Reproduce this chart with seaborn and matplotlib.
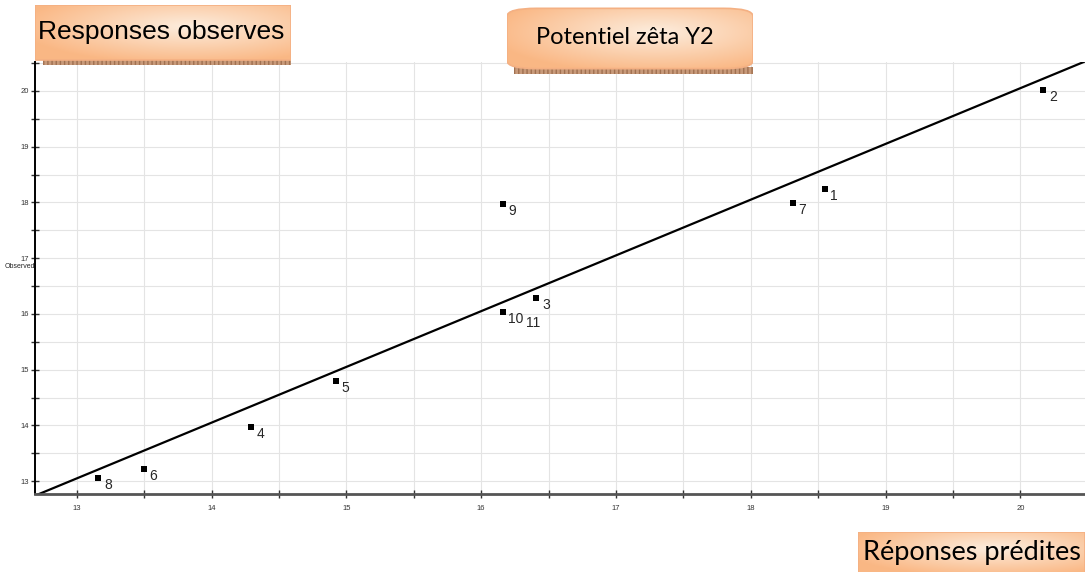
import numpy as np
import matplotlib
matplotlib.use("Agg")
import matplotlib.pyplot as plt
import seaborn as sns
from matplotlib.patches import FancyBboxPatch, Rectangle
from matplotlib.ticker import MultipleLocator

# Données : réponses prédites / observées (Potentiel zêta Y2)
essais = ["1", "2", "3", "4", "5", "6", "7", "8", "9", "10", "11"]
predites = [18.55, 20.17, 16.41, 14.29, 14.92, 13.50, 18.31, 13.16, 16.16, 16.16, 16.16]
observees = [18.24, 20.02, 16.28, 13.97, 14.79, 13.21, 17.99, 13.05, 17.97, 16.03, 16.03]
droite_x = [12.5, 21.0]
droite_y = [12.55, 21.05]
xlim = (12.69, 20.48)
ylim = (12.77, 20.52)

sns.set_theme(style="whitegrid")
plt.rcParams['font.family'] = ['Liberation Sans', 'DejaVu Sans']

fig = plt.figure(figsize=(10.85, 5.72), dpi=100)
ax = fig.add_axes([35 / 1085, 78 / 572, 1050 / 1085, 432 / 572])
ax.set_facecolor("white")

sns.lineplot(x=droite_x, y=droite_y, color="black", linewidth=1.6, ax=ax)
sns.scatterplot(x=predites, y=observees, marker="s", s=22, color="black",
                edgecolor="black", linewidth=0, ax=ax, zorder=5)

for i, lab in enumerate(essais):
    dx, dy = (4, -5) if lab != "11" else (17, -8)
    ax.annotate(lab, (predites[i], observees[i]), xytext=(dx, dy),
                textcoords="offset points", fontsize=10, va="center", ha="left")

ax.set_xlim(*xlim)
ax.set_ylim(*ylim)
ax.xaxis.set_major_locator(MultipleLocator(1))
ax.xaxis.set_minor_locator(MultipleLocator(0.5))
ax.yaxis.set_major_locator(MultipleLocator(1))
ax.yaxis.set_minor_locator(MultipleLocator(0.5))
ax.grid(True, which="both", color="#e4e4e4", linewidth=0.8)
ax.tick_params(which="both", direction="inout", length=6, width=1,
               labelsize=5.5, colors="#333333", bottom=True, left=True)
ax.tick_params(axis="x", pad=5)
ax.tick_params(axis="y", pad=1)
for s in ["top", "right"]:
    ax.spines[s].set_visible(False)
ax.spines["left"].set_color("black")
ax.spines["left"].set_linewidth(1.4)
ax.spines["bottom"].set_color("#555555")
ax.spines["bottom"].set_linewidth(2)
ax.set_xlabel("")
ax.set_ylabel("")
fig.text(5 / 1085, 1 - 266 / 572, "Observed", fontsize=5, va="center", ha="left")

# dégradé orange des cartouches
grad = np.linspace(0, 1, 200)
gx, gy = np.meshgrid(grad, grad)
dist = np.clip(np.sqrt((gx - 0.6) ** 2 + (gy - 0.6) ** 2) * 1.5, 0, 1)
c_in = np.array([0.99, 0.93, 0.87])
c_out = np.array([0.98, 0.72, 0.52])
img = c_in + (c_out - c_in) * dist[..., None]


def cartouche(x0, y0, w, h, texte, size, family, rond=False, ha="left", tx=0.02):
    bx = fig.add_axes([x0 / 1085, 1 - (y0 + h) / 572, w / 1085, h / 572])
    bx.set_xlim(0, 1)
    bx.set_ylim(0, 1)
    bx.axis("off")
    # bande hachurée en bas
    bx.add_patch(Rectangle((0.03, 0.0), 0.97, 0.1, facecolor="#c89a7a",
                           edgecolor="#a07050", hatch="||||", linewidth=0,
                           transform=bx.transAxes, zorder=0, clip_on=False))
    if rond:
        patch = FancyBboxPatch((0.0, 0.08), 1.0, 0.9,
                               boxstyle="round,pad=0,rounding_size=0.12",
                               mutation_aspect=1,
                               facecolor="none", edgecolor="#f4b083",
                               linewidth=1.2, transform=bx.transAxes, zorder=3)
    else:
        patch = Rectangle((0.0, 0.08), 1.0, 0.92, facecolor="none",
                          edgecolor="#f4b083", linewidth=1.2,
                          transform=bx.transAxes, zorder=3)
    bx.add_patch(patch)
    im = bx.imshow(img, extent=(0, 1, 0.08, 1.0), aspect="auto", zorder=1,
                   origin="lower")
    im.set_clip_path(patch)
    bx.text(tx, 0.55, texte, fontsize=size, family=family, ha=ha,
            va="center", zorder=4, color="black")


cartouche(35, 5, 256, 60, "Responses observes", 19, ["Liberation Sans", "DejaVu Sans"],
          tx=0.01)
cartouche(507, 7, 246, 67, "Potentiel zêta Y2", 17, ["Lato", "DejaVu Sans"],
          rond=True, ha="center", tx=0.48)
cartouche(858, 532, 227, 46, "Réponses prédites", 19.5, ["Lato", "DejaVu Sans"], tx=0.02)

fig.savefig("out.png", dpi=100)
